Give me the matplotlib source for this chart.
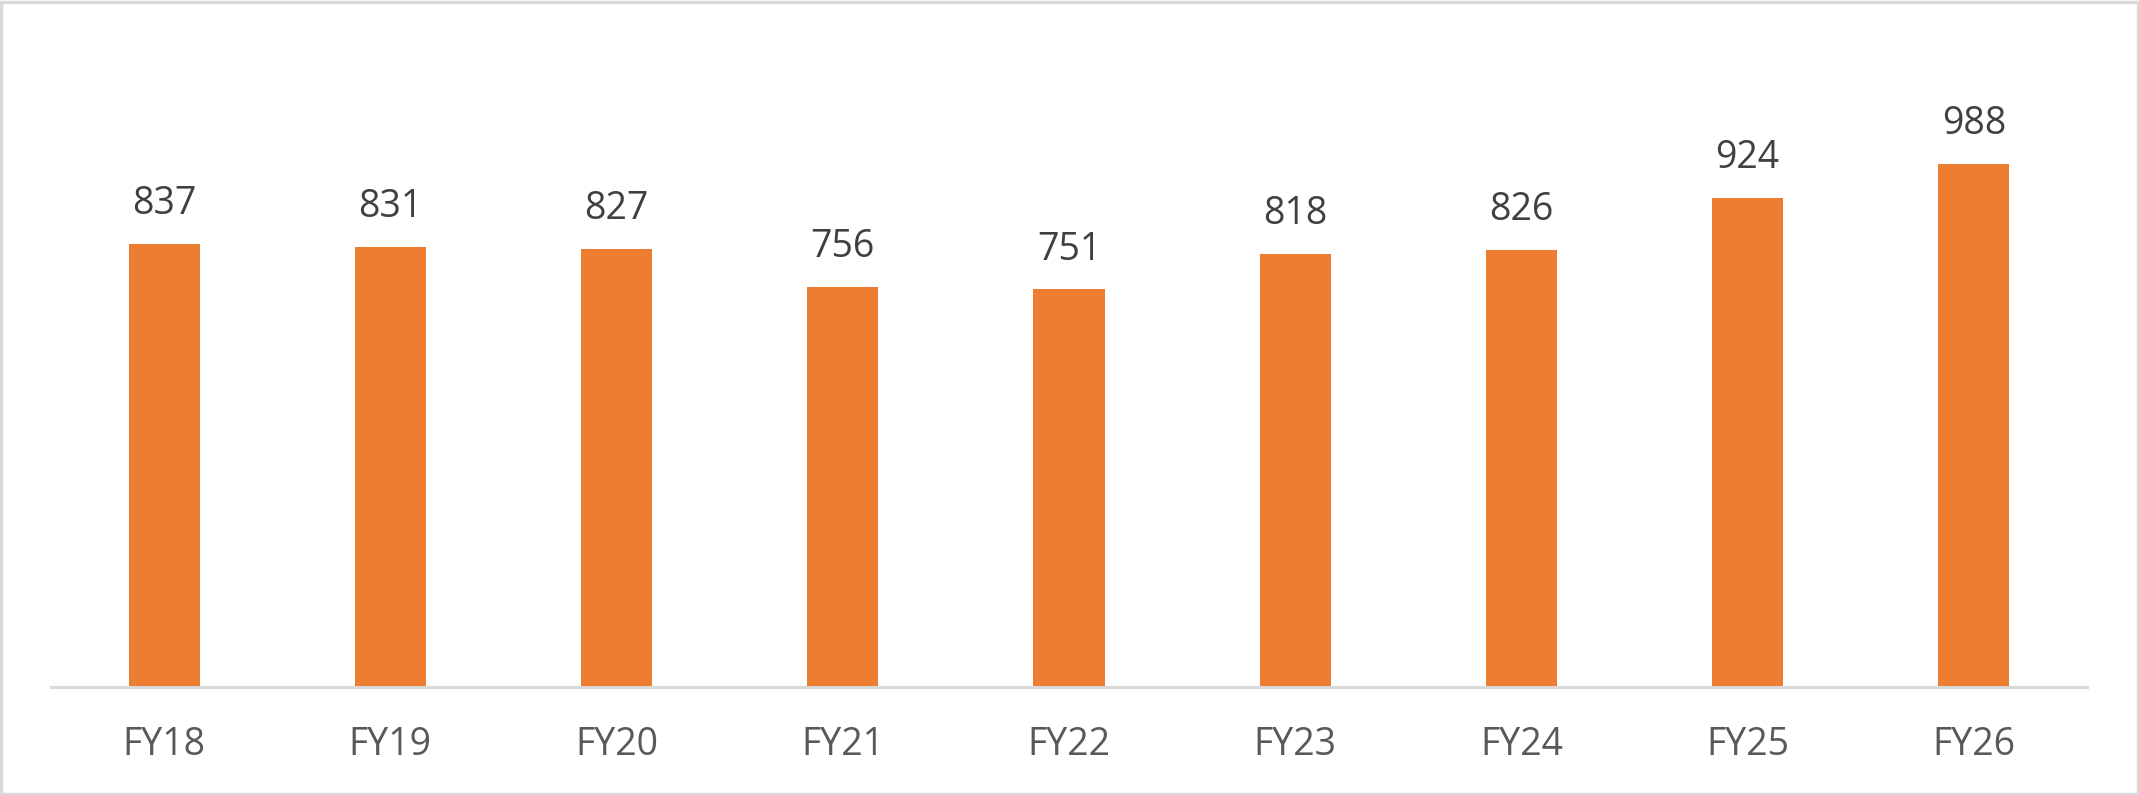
import matplotlib
matplotlib.use("Agg")
import matplotlib.pyplot as plt
from matplotlib.patches import Rectangle

categories = ["FY18", "FY19", "FY20", "FY21", "FY22", "FY23", "FY24", "FY25", "FY26"]
values = [837, 831, 827, 756, 751, 818, 826, 924, 988]

plt.rcParams['font.family'] = ['Open Sans', 'DejaVu Sans']

W, H = 2139, 795
dpi = 100
fig = plt.figure(figsize=(W / dpi, H / dpi), dpi=dpi)
left, right = 51, 2087
bottom_px, top_px = 687, 52
ax = fig.add_axes([left / W, 1 - bottom_px / H, (right - left) / W, (bottom_px - top_px) / H])

x = list(range(len(categories)))
ax.bar(x, values, width=0.314, color="#ED7D31", zorder=2)
ymax = values[-1] / ((687 - 164) / (bottom_px - top_px))
ax.set_ylim(0, ymax)
ax.set_xlim(-0.5, len(categories) - 0.5)

for xi, v in zip(x, values):
    ax.annotate(str(v), (xi, v), xytext=(0, 15), textcoords="offset points",
                ha="center", va="bottom", fontsize=27, color="#404040")

ax.set_xticks(x)
ax.set_xticklabels(categories, fontsize=27, color="#595959")
ax.tick_params(axis="x", length=0, pad=28)
ax.set_yticks([])
for s in ["top", "right", "left"]:
    ax.spines[s].set_visible(False)
ax.spines["bottom"].set_color("#d9d9d9")
ax.spines["bottom"].set_linewidth(2.2)
ax.spines["bottom"].set_zorder(3)

fig.patches.append(Rectangle((0.0007, 0.001), 0.9986, 0.997, transform=fig.transFigure,
                             fill=False, edgecolor="#d9d9d9", linewidth=2.5))

fig.savefig("out.png", dpi=dpi, facecolor="white")
